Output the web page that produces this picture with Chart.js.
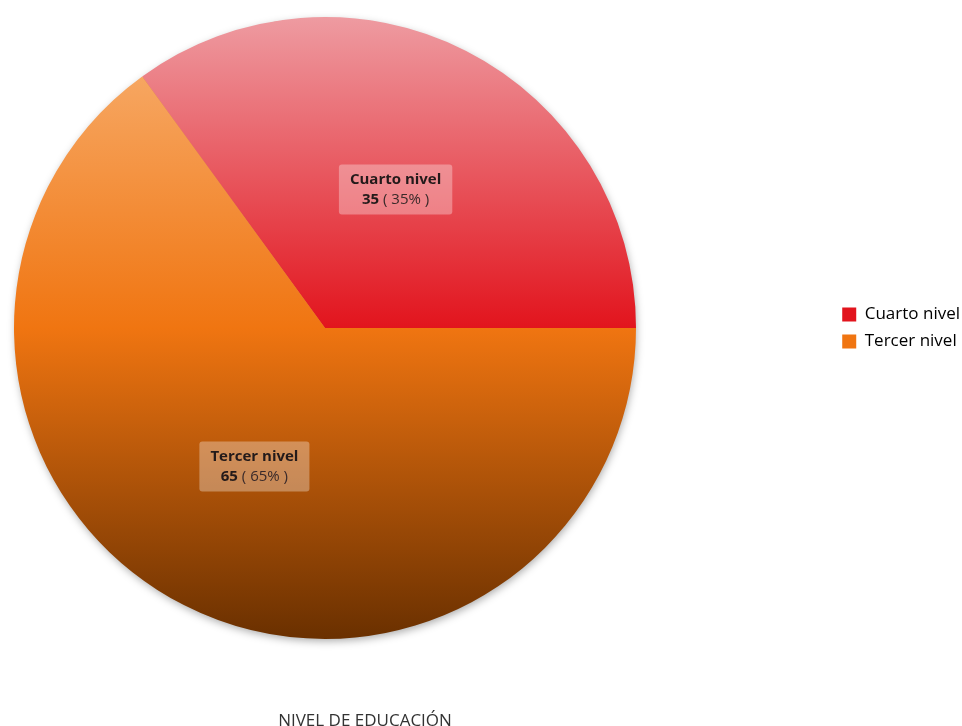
<!DOCTYPE html>
<html>
<head>
<meta charset="utf-8">
<title>NIVEL DE EDUCACIÓN</title>
<script src="https://cdn.jsdelivr.net/npm/chart.js@4"></script>
<style>
  html, body { margin: 0; padding: 0; background: #ffffff; overflow: hidden; }
  #wrap { position: relative; width: 962px; height: 726px; }
</style>
</head>
<body>
<div id="wrap"><canvas id="chart"></canvas></div>
<script>
// Education level of respondents
const categories = ['Cuarto nivel', 'Tercer nivel'];
const counts = [35, 65];
const chartTitle = 'NIVEL DE EDUCACIÓN';

// Slice shading: light at the top of the pie, base colour at its centre, dark at the bottom
const palette = {
  base:  ['#e2141d', '#f07511'],
  light: ['#ee9ba1', '#f8b274'],
  dark:  ['#7a0c10', '#6a3000']
};

const FONT = "'Open Sans', 'Noto Sans', sans-serif";

function sliceFill(ctx) {
  const chart = ctx.chart;
  const i = ctx.dataIndex;
  const area = chart.chartArea;
  if (!area || i === undefined) return palette.base[i] || palette.base[0];
  const g = chart.ctx.createLinearGradient(0, area.top, 0, area.bottom);
  g.addColorStop(0, palette.light[i]);
  g.addColorStop(0.5, palette.base[i]);
  g.addColorStop(1, palette.dark[i]);
  return g;
}

// Keep the pie's plot area square and flush left; the caption sits under the pie
const squareArea = {
  id: 'squareArea',
  afterLayout(chart) {
    const a = chart.chartArea;
    a.right = a.left + (a.bottom - a.top);
    a.width = a.right - a.left;
    if (chart.titleBlock) {
      chart.titleBlock.left = 0;
      chart.titleBlock.right = 730;
      chart.titleBlock.width = 730;
    }
  }
};

// Soft drop shadow under the whole pie
const pieShadow = {
  id: 'pieShadow',
  beforeDatasetsDraw(chart) {
    const arc = chart.getDatasetMeta(0).data[0];
    if (!arc) return;
    const ctx = chart.ctx;
    ctx.save();
    ctx.shadowColor = 'rgba(0,0,0,0.35)';
    ctx.shadowBlur = 8;
    ctx.shadowOffsetX = 1;
    ctx.shadowOffsetY = 3;
    ctx.beginPath();
    ctx.arc(arc.x, arc.y, arc.outerRadius - 1, 0, Math.PI * 2);
    ctx.fillStyle = '#d08050';
    ctx.fill();
    ctx.restore();
  }
};

// Boxed value labels inside each slice: name, then value and percentage
const sliceLabels = {
  id: 'sliceLabels',
  afterDatasetsDraw(chart) {
    const ctx = chart.ctx;
    const ds = chart.data.datasets[0];
    const total = ds.data.reduce((s, v) => s + v, 0);
    const size = 15, lineH = 20, padX = 11, padY = 5;
    const bold = 'bold ' + size + 'px ' + FONT;
    const reg = size + 'px ' + FONT;
    chart.getDatasetMeta(0).data.forEach((arc, i) => {
      const p = arc.tooltipPosition();
      const name = chart.data.labels[i];
      const val = String(ds.data[i]);
      const pct = ' ( ' + Math.round(ds.data[i] / total * 100) + '% )';
      ctx.save();
      ctx.font = bold;
      const wName = ctx.measureText(name).width;
      const wVal = ctx.measureText(val).width;
      ctx.font = reg;
      const wPct = ctx.measureText(pct).width;
      const w2 = wVal + wPct;
      const bw = Math.max(wName, w2) + padX * 2;
      const bh = lineH * 2 + padY * 2;
      const bx = p.x - bw / 2, by = p.y - bh / 2;
      ctx.fillStyle = 'rgba(255,255,255,0.32)';
      ctx.beginPath();
      ctx.roundRect(bx, by, bw, bh, 3);
      ctx.fill();
      ctx.fillStyle = '#231a1a';
      ctx.textBaseline = 'middle';
      ctx.textAlign = 'left';
      ctx.font = bold;
      ctx.fillText(name, p.x - wName / 2, by + padY + lineH / 2);
      const x2 = p.x - w2 / 2;
      ctx.fillText(val, x2, by + padY + lineH * 1.5);
      ctx.font = reg;
      ctx.fillStyle = '#3a2a2a';
      ctx.fillText(pct, x2 + wVal, by + padY + lineH * 1.5);
      ctx.restore();
    });
  }
};

new Chart(document.getElementById('chart'), {
  type: 'pie',
  data: {
    labels: categories,
    datasets: [{
      data: counts,
      backgroundColor: sliceFill,
      borderWidth: 0,
      hoverOffset: 0
    }]
  },
  options: {
    responsive: true,
    maintainAspectRatio: false,
    animation: false,
    rotation: -36,
    layout: { padding: { left: 14, top: 17, right: -8, bottom: 0 } },
    plugins: {
      tooltip: { enabled: false },
      legend: {
        position: 'right',
        align: 'center',
        fullSize: false,
        labels: {
          boxWidth: 14,
          boxHeight: 14,
          padding: 10,
          color: '#333333',
          font: { family: FONT, size: 17 },
          generateLabels(chart) {
            return chart.data.labels.map((label, i) => ({
              text: label,
              fillStyle: palette.base[i],
              strokeStyle: palette.base[i],
              lineWidth: 0,
              hidden: false,
              index: i
            }));
          }
        }
      },
      title: {
        display: true,
        text: chartTitle,
        position: 'bottom',
        color: '#333333',
        font: { family: FONT, size: 17, weight: 'normal', lineHeight: '14px' },
        padding: { top: 75, bottom: -2 }
      }
    }
  },
  plugins: [squareArea, pieShadow, sliceLabels]
});
</script>
</body>
</html>
